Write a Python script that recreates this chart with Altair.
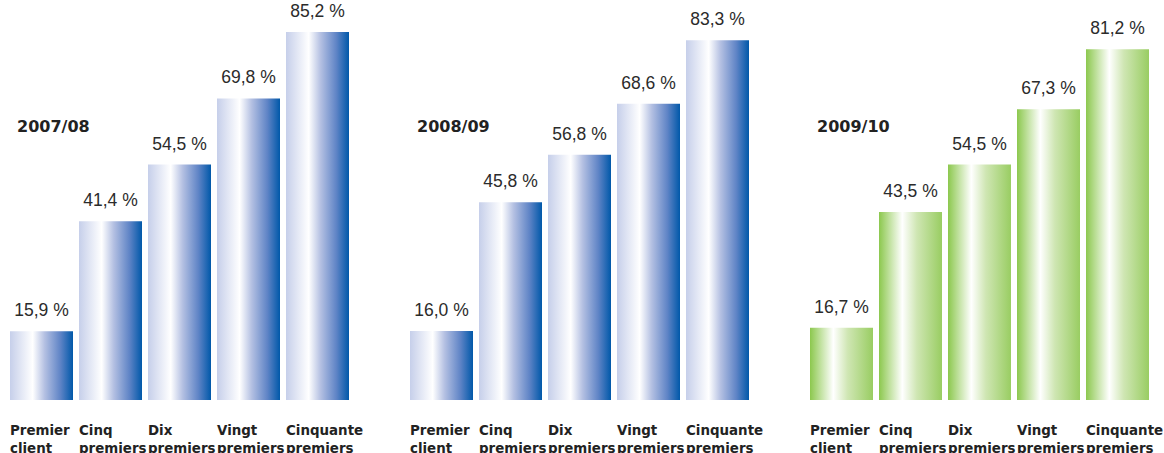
import altair as alt
import pandas as pd

categories = ["Premier client", "Cinq premiers", "Dix premiers", "Vingt premiers", "Cinquante premiers"]
cat_labels = ["Premier\nclient", "Cinq\npremiers", "Dix\npremiers", "Vingt\npremiers", "Cinquante\npremiers"]
years = ["2007/08", "2008/09", "2009/10"]
values_0708 = [15.9, 41.4, 54.5, 69.8, 85.2]
values_0809 = [16.0, 45.8, 56.8, 68.6, 83.3]
values_0910 = [16.7, 43.5, 54.5, 67.3, 81.2]
all_values = [values_0708, values_0809, values_0910]

blue_stops = [(0.0, "#c6cfea"), (0.36, "#ffffff"), (0.55, "#b4c0e2"), (0.8, "#5f84c6"), (1.0, "#0058a9")]
green_stops = [(0.0, "#8cc84e"), (0.37, "#ffffff"), (0.6, "#cfe6b3"), (1.0, "#99cd62")]
palettes = [blue_stops, blue_stops, green_stops]


def fmt(v):
    return f"{v:.1f}".replace(".", ",") + " %"


def panel(year, vals, stops):
    df = pd.DataFrame({
        "cat": categories,
        "value": vals,
        "label": [fmt(v) for v in vals],
        "catlabel": cat_labels,
    })
    xscale = alt.Scale(paddingInner=6 / 69, paddingOuter=0)
    xenc = alt.X("cat:N", sort=categories, scale=xscale, axis=None)
    yenc = alt.Y("value:Q", scale=alt.Scale(domain=[0, 92.6], nice=False, zero=True), axis=None)
    grad = alt.Gradient(
        gradient="linear", x1=0, x2=1, y1=0, y2=0,
        stops=[alt.GradientStop(offset=o, color=c) for o, c in stops],
    )
    base = alt.Chart(df)
    bars = base.mark_bar(color=grad).encode(x=xenc, y=yenc)
    vlabels = base.mark_text(
        font="Liberation Sans", fontSize=17.5, color="#2b2b2b",
        baseline="alphabetic", align="center", dy=-15,
    ).encode(x=xenc, y=yenc, text="label:N")
    clabels = base.mark_text(
        font="DejaVu Sans", fontWeight="bold", fontSize=13.4, color="#222222",
        baseline="alphabetic", align="left", lineBreak="\n", lineHeight=18,
    ).encode(
        x=alt.X("cat:N", sort=categories, bandPosition=0, scale=xscale, axis=None),
        y=alt.value(435),
        text="catlabel:N",
    )
    ylabel = alt.Chart(pd.DataFrame({"year": [year]})).mark_text(
        font="DejaVu Sans", fontWeight="bold", fontSize=16, color="#222222",
        baseline="alphabetic", align="left",
    ).encode(x=alt.value(7), y=alt.value(132), text="year:N")
    return alt.layer(bars, vlabels, clabels, ylabel).properties(width=339, height=400)


panels = [panel(y, v, p) for y, v, p in zip(years, all_values, palettes)]

chart = alt.hconcat(*panels, spacing=61, bounds="flush").properties(
    padding={"left": 10, "top": 0, "right": 0, "bottom": 0},
    background="white",
).configure_view(stroke=None)

chart.save("out.html", embed_options={"renderer": "svg", "actions": False})
